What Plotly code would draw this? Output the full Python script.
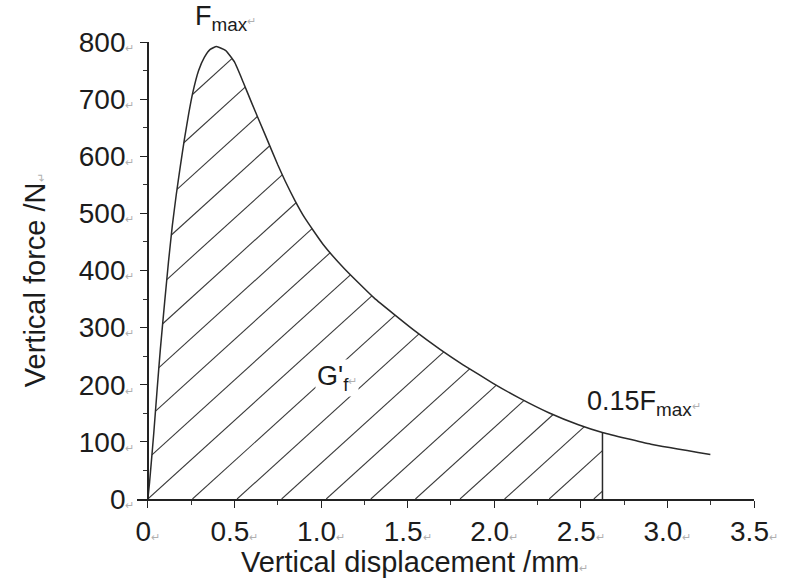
import numpy as np
import plotly.graph_objects as go

# ---- data ----
disp_mm = [0.0, 0.01, 0.02, 0.034, 0.053, 0.072, 0.097, 0.119, 0.141, 0.164,
           0.187, 0.211, 0.236, 0.259, 0.293, 0.326, 0.36, 0.396, 0.45, 0.50,
           0.55, 0.60, 0.678, 0.75, 0.792, 0.85, 0.906, 1.011, 1.135, 1.306,
           1.534, 1.687, 1.82, 1.991, 2.143, 2.315, 2.486, 2.629, 2.905, 3.248]
force_N = [0, 30, 65, 115, 190, 262, 345, 415, 478, 533,
           582, 630, 675, 711, 750, 773, 787, 792, 785, 765,
           730, 693, 637, 585, 557, 522, 492, 446, 403, 352,
           296, 262, 235, 203, 177, 151, 130, 116, 96, 78]
cut_disp = 2.625          # displacement at 0.15 Fmax
x_ticks = [0, 0.5, 1.0, 1.5, 2.0, 2.5, 3.0, 3.5]
x_tick_labels = ["0", "0.5", "1.0", "1.5", "2.0", "2.5", "3.0", "3.5"]
y_ticks = [0, 100, 200, 300, 400, 500, 600, 700, 800]
y_tick_labels = ["0", "100", "200", "300", "400", "500", "600", "700", "800"]

PM = "<span style='font-size:11px;color:#b0b0b0'>\u21b5</span>"
FONT = "Liberation Sans, Arial, sans-serif"
INK = "#1c1c1c"

X0 = -0.0628
fig = go.Figure()

# hatch lines (computed by clipping diagonal lines to the area under the curve)
hx = np.array(disp_mm, dtype=float)
hy = np.array(force_N, dtype=float)
slope = 275.0
spacing = 0.2575
xs_all, ys_all = [], []
for k in range(-14, 12):
    c = k * spacing
    if c > cut_disp:
        continue
    xx = np.linspace(max(c, 0.0), cut_disp, 6000)
    yl = slope * (xx - c)
    inside = (yl <= np.interp(xx, hx, hy)) & (yl >= 0)
    idx = np.where(inside)[0]
    if len(idx) < 2:
        continue
    i0, i1 = idx[0], idx[-1]
    xs_all += [xx[i0], xx[i1], None]
    ys_all += [yl[i0], yl[i1], None]
fig.add_trace(go.Scatter(x=xs_all, y=ys_all, mode="lines",
                         line=dict(color="#3a3a3a", width=1.1), hoverinfo="skip",
                         showlegend=False, cliponaxis=False))

# curve
fig.add_trace(go.Scatter(x=disp_mm, y=force_N, mode="lines",
                         line=dict(color="#2a2a2a", width=1.5, shape="spline", smoothing=0.4),
                         showlegend=False, cliponaxis=False))
# vertical cut line
cut_force = float(np.interp(cut_disp, hx, hy))
fig.add_trace(go.Scatter(x=[cut_disp, cut_disp], y=[0, cut_force], mode="lines",
                         line=dict(color="#2a2a2a", width=1.5), showlegend=False,
                         cliponaxis=False))

fig.update_layout(
    width=790, height=578,
    margin=dict(l=137, r=29, t=42, b=79),
    paper_bgcolor="white", plot_bgcolor="white",
    font=dict(family=FONT, color=INK, size=28),
    showlegend=False,
)
fig.update_xaxes(
    range=[X0, 3.5], showgrid=False, zeroline=False,
    showline=True, linecolor="#222", linewidth=1.6,
    tickmode="array", tickvals=x_ticks, ticktext=[t + PM for t in x_tick_labels],
    ticks="outside", ticklen=7, tickwidth=1.4, tickcolor="#222",
    tickfont=dict(size=28, family=FONT, color=INK),
    minor=dict(tickmode="linear", tick0=0, dtick=0.25, ticks="outside",
               ticklen=4, tickwidth=1.2, tickcolor="#333"),
)
fig.update_yaxes(
    range=[0, 800], showgrid=False, zeroline=False,
    anchor="free", position=(-X0) / (3.5 - X0),
    showline=True, linecolor="#222", linewidth=1.6,
    tickmode="array", tickvals=y_ticks, ticktext=[t + PM for t in y_tick_labels],
    ticks="outside", ticklen=7, tickwidth=1.4, tickcolor="#222",
    tickfont=dict(size=28, family=FONT, color=INK),
    minor=dict(tickmode="linear", tick0=0, dtick=50, ticks="outside",
               ticklen=4, tickwidth=1.2, tickcolor="#333"),
)

def px2paper(px, py):
    return (px - 137) / 624.0, (499 - py) / 457.0

ax, ay = px2paper(418, 562)
bx, by = px2paper(34, 280)
fx, fy = px2paper(227, 18)
fig.add_annotation(x=ax, y=ay, xref="paper", yref="paper", showarrow=False,
                   text="Vertical displacement /mm" + PM, font=dict(size=29),
                   xanchor="center", yanchor="middle")
fig.add_annotation(x=bx, y=by, xref="paper", yref="paper", showarrow=False,
                   text="Vertical force /N" + PM, font=dict(size=29), textangle=-90,
                   xanchor="center", yanchor="middle")

fig.add_annotation(x=fx, y=fy, xref="paper", yref="paper", showarrow=False,
                   text="F<sub>max</sub>" + PM,
                   font=dict(size=27), xanchor="center", yanchor="middle")
fig.add_annotation(x=1.09, y=212, showarrow=False, text="G'<sub>f</sub>" + PM,
                   font=dict(size=27), xanchor="center", yanchor="middle", bgcolor="white")
fig.add_annotation(x=2.867, y=168, showarrow=False, text="0.15F<sub>max</sub>" + PM,
                   font=dict(size=27), xanchor="center", yanchor="middle")

fig.write_html("out.html")
